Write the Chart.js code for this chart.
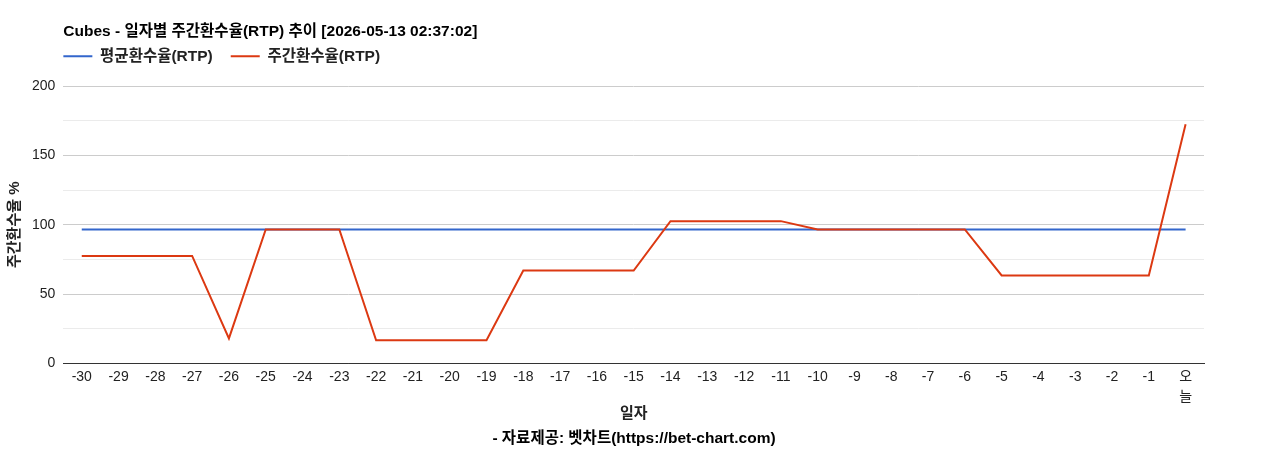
<!DOCTYPE html>
<html>
<head>
<meta charset="utf-8">
<script src="https://cdn.jsdelivr.net/npm/chart.js@4/dist/chart.umd.min.js"></script>
<style>
  html, body { margin: 0; padding: 0; background: #fff; }
  #wrap { width: 1268px; height: 450px; }
</style>
</head>
<body>
<div id="wrap"><canvas id="rtpChart"></canvas></div>
<script>
// x축 일자 (마지막은 오늘)
const days = ["-30", "-29", "-28", "-27", "-26", "-25", "-24", "-23", "-22", "-21",
  "-20", "-19", "-18", "-17", "-16", "-15", "-14", "-13", "-12", "-11",
  "-10", "-9", "-8", "-7", "-6", "-5", "-4", "-3", "-2", "-1", ["오", "늘"]];

// 평균환수율 (전 구간 동일)
const avgRtp = [96.6, 96.6, 96.6, 96.6, 96.6, 96.6, 96.6, 96.6, 96.6, 96.6,
  96.6, 96.6, 96.6, 96.6, 96.6, 96.6, 96.6, 96.6, 96.6, 96.6,
  96.6, 96.6, 96.6, 96.6, 96.6, 96.6, 96.6, 96.6, 96.6, 96.6, 96.6];

// 주간환수율
const weeklyRtp = [77.5, 77.5, 77.5, 77.5, 18, 96.6, 96.6, 96.6, 16.7, 16.7,
  16.7, 16.7, 67, 67, 67, 67, 102.6, 102.6, 102.6, 102.6,
  96.6, 96.6, 96.6, 96.6, 96.6, 63.4, 63.4, 63.4, 63.4, 63.4, 172.5];

const yTicks = [0, 50, 100, 150, 200];

const fontFamily = '"Liberation Sans", Arial, "Noto Sans CJK KR", sans-serif';
Chart.defaults.font.family = fontFamily;
Chart.defaults.color = "#222";

const legendPad = 18;

// 제목/범례를 차트 영역 왼쪽에 맞추고, 출처 문구는 캔버스 가운데로
const alignToArea = {
  id: "alignToArea",
  beforeInit(chart) {
    const fit = chart.legend.fit;
    chart.legend.fit = function () {
      fit.call(this);
      this.height += 1;
    };
  },
  afterLayout(chart) {
    chart.titleBlock.left = chart.chartArea.left;
    chart.legend.left = chart.chartArea.left - legendPad;
    chart.legend.top -= 11;
    const TitleEl = Chart.Title._element;
    chart.boxes.forEach((box) => {
      if (box instanceof TitleEl && box !== chart.titleBlock) {
        box.left = 0;
        box.right = chart.width;
      }
    });
  }
};

new Chart(document.getElementById("rtpChart").getContext("2d"), {
  type: "line",
  data: {
    labels: days,
    datasets: [
      {
        label: "평균환수율(RTP)",
        data: avgRtp,
        borderColor: "#3366cc",
        backgroundColor: "#3366cc",
        borderWidth: 2,
        pointRadius: 0,
        fill: false,
        order: 1,
      },
      {
        label: "주간환수율(RTP)",
        data: weeklyRtp,
        borderColor: "#dc3912",
        backgroundColor: "#dc3912",
        borderWidth: 2,
        pointRadius: 0,
        fill: false,
        order: 0,
      },
    ],
  },
  options: {
    responsive: true,
    maintainAspectRatio: false,
    animation: false,
    layout: { padding: { top: 22, right: 64, left: 6, bottom: 2 } },
    plugins: {
      title: {
        display: true,
        align: "start",
        text: "Cubes - 일자별 주간환수율(RTP) 추이 [2026-05-13 02:37:02]",
        font: { size: 15.5, weight: "bold" },
        color: "#000",
        padding: { top: 0, bottom: 1 },
      },
      legend: {
        display: true,
        align: "start",
        labels: {
          usePointStyle: true,
          pointStyle: "line",
          pointStyleWidth: 29,
          boxHeight: 2,
          padding: legendPad,
          font: { size: 15.5, weight: "bold" },
          color: "#222",
          sort: (a, b) => a.datasetIndex - b.datasetIndex,
        },
      },
      subtitle: {
        display: true,
        position: "bottom",
        text: "- 자료제공: 벳차트(https://bet-chart.com)",
        font: { size: 15.5, weight: "bold" },
        color: "#000",
        padding: { top: 8, bottom: 0 },
      },
      tooltip: { enabled: false },
    },
    scales: {
      x: {
        offset: true,
        grid: { display: false, drawTicks: false },
        border: { color: "#333", width: 1 },
        ticks: {
          autoSkip: false,
          maxRotation: 0,
          font: { size: 14, lineHeight: 1.43 },
          color: "#222",
          padding: 4,
        },
        title: {
          display: true,
          text: "일자",
          font: { size: 15, weight: "bold", lineHeight: 1.0 },
          color: "#222",
          padding: { top: -5, bottom: 0 },
        },
      },
      y: {
        min: 0,
        max: 200,
        afterBuildTicks(axis) {
          const ticks = [];
          for (let v = 0; v <= 200; v += 25) ticks.push({ value: v });
          axis.ticks = ticks;
        },
        grid: {
          drawTicks: false,
          color: (ctx) => {
            const v = ctx.tick.value;
            if (v === 0) return "#333";
            return yTicks.includes(v) ? "#cccccc" : "#ebebeb";
          },
        },
        border: { display: false },
        ticks: {
          font: { size: 14 },
          color: "#222",
          padding: 8,
          callback: (v) => (yTicks.includes(v) ? String(v) : ""),
        },
        title: {
          display: true,
          text: "주간환수율 %",
          font: { size: 15, weight: "bold" },
          color: "#222",
          padding: { top: 0, bottom: 0 },
        },
      },
    },
  },
  plugins: [alignToArea],
});
</script>
</body>
</html>
